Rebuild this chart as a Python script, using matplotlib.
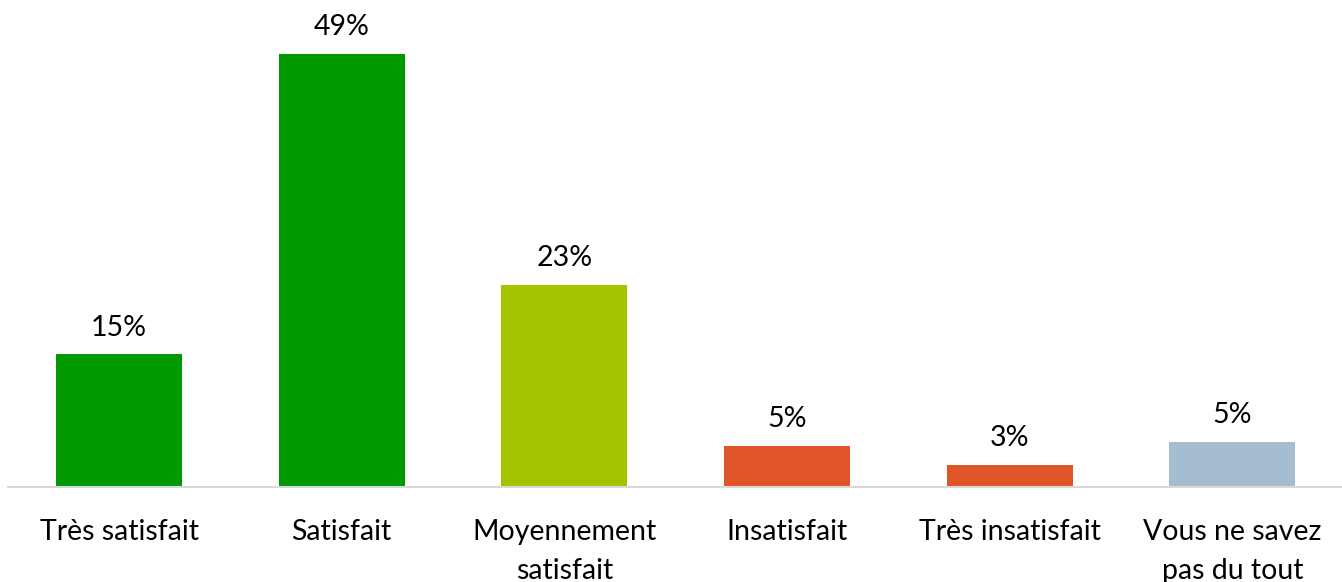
import matplotlib
matplotlib.use("Agg")
import matplotlib.pyplot as plt

categories = ["Très satisfait", "Satisfait", "Moyennement\nsatisfait", "Insatisfait",
              "Très insatisfait", "Vous ne savez\npas du tout"]
values = [15.0, 49.0, 22.9, 4.6, 2.5, 5.1]
labels = ["15%", "49%", "23%", "5%", "3%", "5%"]
colors = ["#009900", "#009900", "#A5C400", "#E05527", "#E05527", "#A5BDD0"]

plt.rcParams['font.family'] = ['Lato', 'DejaVu Sans']

fig = plt.figure(figsize=(13.42, 5.82), dpi=100)
ax = fig.add_axes([7.7/1342, 95/582, 1336/1342, 487/582])
x = list(range(len(categories)))
ax.bar(x, values, width=0.566, color=colors)
for xi, v, lab in zip(x, values, labels):
    ax.annotate(lab, (xi, v), xytext=(0, 10), textcoords="offset points",
                ha="center", va="bottom", fontsize=20.5, color="#000000")
ax.set_xlim(-0.5, 5.5)
ax.set_ylim(0, 487/8.837)
ax.set_xticks(x)
ax.set_xticklabels(categories, fontsize=20.5, linespacing=1.6)
ax.tick_params(axis="x", length=0, pad=23)
ax.set_yticks([])
for s in ["top", "right", "left"]:
    ax.spines[s].set_visible(False)
ax.spines["bottom"].set_color("#D9D9D9")
ax.spines["bottom"].set_linewidth(1.5)
fig.savefig("out.png", dpi=100)
